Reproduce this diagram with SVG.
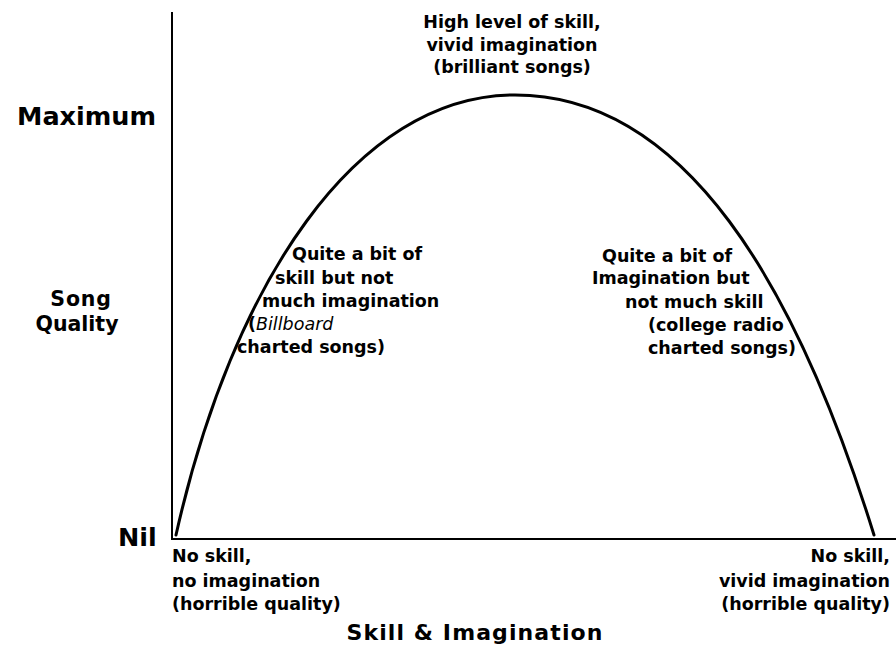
<svg xmlns="http://www.w3.org/2000/svg" width="896" height="647" viewBox="0 0 896 647">
<style>
.t{font-family:"DejaVu Sans","Verdana",sans-serif;font-weight:bold;font-size:17.5px;fill:#000}
.big{font-size:25.5px}
.ax{font-size:20.5px}
.xl{font-size:22px;letter-spacing:1.1px}
.it{font-weight:normal;font-style:italic}
.line{stroke:#000;stroke-width:2;fill:none}
.curve{stroke:#000;stroke-width:3;fill:none;stroke-linecap:round;stroke-linejoin:round}
</style>
<rect width="896" height="647" fill="#fff"/>
<g id="axes">
<line class="line" x1="172" y1="12" x2="172" y2="539"/>
<line class="line" x1="171" y1="539" x2="896" y2="539"/>
</g>
<g id="connectors">
<path id="curve" class="curve" d="M176,535 C232,285 355,95 515,95 C685,95 796.5,285 874,535"/>
</g>
<g id="y-labels">
<text class="t big" x="17" y="125">Maximum</text>
<text class="t ax" x="81" y="306" text-anchor="middle" letter-spacing="0.8">Song</text>
<text class="t ax" x="77" y="331" text-anchor="middle">Quality</text>
<text class="t big" x="118" y="546">Nil</text>
</g>
<g id="node-top">
<text class="t" x="512" y="28" text-anchor="middle">High level of skill,</text>
<text class="t" x="512" y="51" text-anchor="middle">vivid imagination</text>
<text class="t" x="512" y="73" text-anchor="middle">(brilliant songs)</text>
</g>
<g id="node-left">
<text class="t" x="292" y="260">Quite a bit of</text>
<text class="t" x="275" y="284">skill but not</text>
<text class="t" x="262" y="307">much imagination</text>
<text class="t" x="248" y="330">(<tspan class="it">Billboard</tspan></text>
<text class="t" x="237" y="353">charted songs)</text>
</g>
<g id="node-right">
<text class="t" x="602" y="262">Quite a bit of</text>
<text class="t" x="592" y="284">Imagination but</text>
<text class="t" x="625" y="308">not much skill</text>
<text class="t" x="648" y="331">(college radio</text>
<text class="t" x="648" y="354">charted songs)</text>
</g>
<g id="node-bottom-left">
<text class="t" x="172" y="562">No skill,</text>
<text class="t" x="172" y="587">no imagination</text>
<text class="t" x="172" y="610">(horrible quality)</text>
</g>
<g id="node-bottom-right">
<text class="t" x="890" y="562" text-anchor="end">No skill,</text>
<text class="t" x="890" y="587" text-anchor="end">vivid imagination</text>
<text class="t" x="890" y="610" text-anchor="end">(horrible quality)</text>
</g>
<g id="x-label">
<text class="t xl" x="475" y="640" text-anchor="middle">Skill &amp; Imagination</text>
</g>
</svg>
